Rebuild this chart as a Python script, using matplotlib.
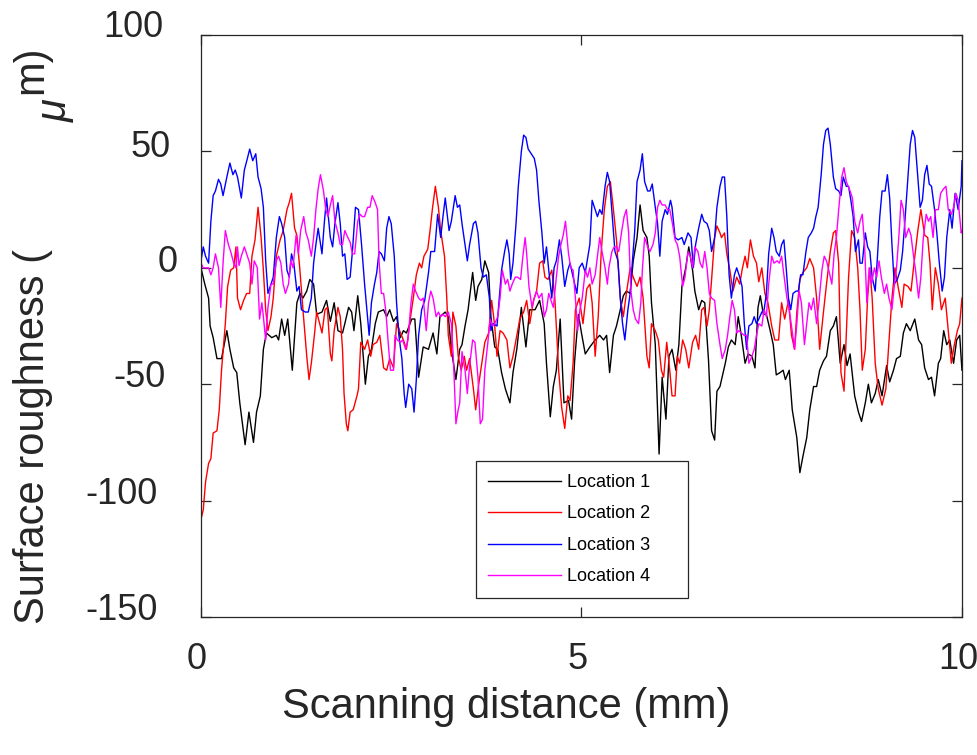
import matplotlib
matplotlib.use("Agg")
import matplotlib.pyplot as plt
from matplotlib.transforms import ScaledTranslation

plt.rcParams['font.family'] = ['Liberation Sans', 'DejaVu Sans']

# ---- data (x in mm, y in um) ----
loc1_x = [0.00, 0.05, 0.10, 0.12, 0.16, 0.21, 0.27, 0.34, 0.38, 0.43, 0.47, 0.51, 0.58, 0.63, 0.69, 0.73, 0.78, 0.82, 0.86, 0.93,
          0.99, 1.02, 1.06, 1.10, 1.14, 1.20, 1.26, 1.30, 1.34, 1.39, 1.43, 1.48, 1.52, 1.59, 1.65, 1.70,
          1.75, 1.80, 1.86, 1.89, 1.94, 1.98, 2.01, 2.06, 2.10, 2.16, 2.20, 2.24, 2.29, 2.33, 2.40, 2.44, 2.48, 2.53,
          2.57, 2.62, 2.66, 2.70, 2.77, 2.81, 2.86, 2.92, 2.99, 3.05, 3.10, 3.14, 3.21, 3.25, 3.29, 3.35, 3.40,
          3.43, 3.47, 3.51, 3.57, 3.61, 3.64, 3.69, 3.73, 3.78, 3.81, 3.86, 3.90, 3.95, 4.00, 4.06, 4.10, 4.15,
          4.21, 4.27, 4.32, 4.39, 4.45, 4.51, 4.54, 4.59, 4.63, 4.67, 4.72, 4.77, 4.83, 4.87, 4.91, 4.96, 5.00, 5.05, 5.11,
          5.18, 5.24, 5.29, 5.33, 5.37, 5.42, 5.46, 5.51, 5.55, 5.59, 5.64, 5.68, 5.73, 5.77, 5.81, 5.86, 5.89,
          5.92, 5.97, 6.02, 6.06, 6.11, 6.15, 6.19, 6.24, 6.28, 6.32, 6.37, 6.41, 6.46, 6.49, 6.54, 6.58, 6.62,
          6.67, 6.71, 6.75, 6.78, 6.82,
          6.89, 6.93, 6.97, 7.02, 7.06, 7.10, 7.15, 7.19, 7.24, 7.28, 7.32, 7.35, 7.39, 7.43, 7.48, 7.52, 7.56,
          7.61, 7.65, 7.68, 7.73, 7.77, 7.83, 7.87, 7.91, 7.96, 8.00, 8.05, 8.09, 8.13, 8.18, 8.22, 8.27, 8.31,
          8.35, 8.40, 8.45, 8.49, 8.53,
          8.59, 8.64, 8.68, 8.73, 8.77, 8.81, 8.86, 8.90, 8.95, 9.01, 9.05, 9.10, 9.14, 9.19, 9.23, 9.27, 9.32,
          9.38, 9.43, 9.47, 9.51, 9.56, 9.60, 9.64, 9.69, 9.72, 9.76, 9.80, 9.84, 9.89, 9.93, 9.97, 10.00]
loc1_y = [0, -7, -13, -25, -30, -39, -39, -27, -35, -43, -45, -58, -76, -62, -75, -62, -55, -35, -28, -30,
          -29, -31, -22, -29, -22, -44, -15, -11, -13, -10, -5, -7, -20, -19, -14, -23,
          -15, -27, -28, -24, -17, -19, -27, -12, -24, -50, -38, -35, -24, -19, -18, -21, -18, -23,
          -21, -30, -27, -28, -22, -22, -47, -34, -35, -28, -37, -21, -19, -21, -35, -48, -35,
          -33, -25, -18, -2, -14, -8, -5, 3, -2, -21, -34, -35, -45, -52, -58, -45, -35,
          -17, -34, -18, -18, -14, -24, -41, -64, -51, -44, -22, -58, -57, -65, -40, -20, -28, -37, -34,
          -31, -29, -31, -29, -45, -29, -25, -18, -12, -10, -11, 3, 13, 27, 16, 13, 5,
          -15, -33, -80, -47, -65, -38, -35, -44, -33, -8, 0, 9, -1, -10, -18, -14, -15,
          -40, -70, -74, -53, -51,
          -41, -34, -31, -33, -21, -29, -41, -37, -38, -43, -17, -12, -20, -20, -27, -33, -46,
          -45, -44, -48, -44, -61, -73, -88, -81, -73, -61, -51, -51, -44, -40, -38, -27, -25,
          -21, -41, -33, -42, -37,
          -55, -62, -66, -58, -50, -58, -54, -48, -55, -42, -49, -44, -39, -38, -28, -24, -27,
          -22, -31, -33, -43, -48, -47, -55, -41, -39, -27, -33, -31, -41, -31, -29, -44]

loc2_x = [0.00, 0.03, 0.06, 0.10, 0.13, 0.16, 0.21, 0.24, 0.27, 0.32, 0.35, 0.39, 0.43, 0.46, 0.48, 0.52, 0.56, 0.60,
          0.64, 0.67, 0.71, 0.75, 0.79, 0.82, 0.85, 0.88, 0.92, 0.95, 0.99, 1.04, 1.08, 1.13, 1.16, 1.19, 1.23,
          1.26, 1.30, 1.34, 1.39, 1.42, 1.45, 1.49, 1.52, 1.56, 1.59, 1.63, 1.66, 1.70,
          1.72, 1.75, 1.80, 1.83, 1.86, 1.88, 1.91, 1.93, 1.96, 2.00, 2.05, 2.07, 2.10, 2.15, 2.19, 2.23, 2.26,
          2.31, 2.35, 2.40, 2.44, 2.48, 2.53, 2.57, 2.61, 2.66, 2.70, 2.75, 2.79, 2.83, 2.87, 2.90, 2.93, 2.98,
          3.01, 3.04, 3.08, 3.12, 3.15, 3.20, 3.23, 3.25, 3.29, 3.31, 3.35, 3.38, 3.40,
          3.42, 3.46, 3.49, 3.53, 3.58, 3.61, 3.65, 3.69, 3.73, 3.78, 3.82, 3.86, 3.89, 3.93, 3.97, 4.02, 4.06,
          4.10, 4.15, 4.19, 4.24, 4.28, 4.32, 4.37, 4.41, 4.45, 4.49, 4.52, 4.56, 4.61, 4.65, 4.70, 4.74, 4.78,
          4.82, 4.85, 4.89, 4.92, 4.97, 5.02, 5.07, 5.11,
          5.14, 5.18, 5.22, 5.26, 5.30, 5.34, 5.38, 5.42, 5.46, 5.51, 5.55, 5.59, 5.64, 5.68, 5.73, 5.77, 5.81,
          5.86, 5.89, 5.92, 5.97, 6.01, 6.05, 6.08, 6.12, 6.16, 6.19, 6.23, 6.26, 6.29, 6.33, 6.37, 6.41, 6.46,
          6.50, 6.54, 6.58, 6.61, 6.65, 6.68, 6.71, 6.75, 6.78, 6.82,
          6.84, 6.88, 6.91, 6.95, 6.99, 7.04, 7.08, 7.11, 7.15, 7.18, 7.22, 7.26, 7.30, 7.33, 7.37, 7.41, 7.45,
          7.50, 7.54, 7.59, 7.63, 7.67, 7.72, 7.76, 7.80, 7.83, 7.87, 7.91, 7.96, 8.00, 8.05, 8.09, 8.13, 8.18,
          8.22, 8.27, 8.31, 8.34, 8.38, 8.41, 8.45,
          8.51, 8.55, 8.59, 8.63, 8.66, 8.69, 8.73, 8.76, 8.79, 8.82, 8.86, 8.90, 8.95, 9.00, 9.04, 9.08, 9.12,
          9.16, 9.21, 9.24, 9.29, 9.33, 9.37, 9.42, 9.46, 9.51, 9.55, 9.58, 9.61, 9.65, 9.69, 9.73, 9.78, 9.82,
          9.86, 9.90, 9.94, 9.97, 10.00]
loc2_y = [-108, -104, -92, -84, -82, -71, -70, -61, -44, -24, -8, -1, 0, 9, -13, -18, -14, -11,
          -11, 5, 12, 26, 13, -1, -18, -27, -21, -13, 5, 12, 16, 25, 28, 32, 17,
          14, -1, -18, -38, -48, -41, -29, -19, -24, -28, -18, -17, -37,
          -40, -27, -17, -21, -35, -54, -67, -70, -62, -61, -55, -52, -32, -35, -31, -38, -33,
          -32, -29, -43, -44, -39, -43, -24, -27, -31, -35, -22, -13, -3, 2, 0, 5, 8,
          16, 25, 35, 26, 16, 5, -13, -29, -38, -19, -25, -38, -41,
          -44, -38, -44, -39, -52, -61, -50, -41, -32, -28, -14, -25, -38, -27, -28, -31, -43,
          -38, -29, -22, -19, -14, -24, -14, -10, 2, 3, -4, -5, -1, -13, -44, -60, -69,
          -55, -57, -41, -18, -13, -24, -9, -7,
          -15, -38, -21, 7, 25, 35, 37, 25, 12, -13, -21, -11, 0, -4, -8, -4, -13,
          -38, -43, -24, -27, -31, -44, -47, -32, -44, -55, -55, -38, -41, -31, -35, -43, -32,
          -29, -35, -18, -17, -25, -18, -5, 13, 18, 15,
          13, 15, 6, -1, -10, -4, -7, -1, 5, 0, 12, 5, 2, -6, 0, -11, -15,
          -25, -31, -31, -15, -22, -14, -29, -35, -19, -5, -2, 0, 4, 0, -13, -35, -19,
          -7, 7, 15, 16, 2, -45, -53,
          -4, 16, 13, 0, -18, -44, -35, -13, 0, -13, -41, -52, -59, -52, -32, -13, 0,
          -8, -17, -7, -8, -10, 2, 16, 25, 14, 13, 2, -18, 0, -7, -18, -13, -27,
          -41, -33, -27, -24, -13]

loc3_x = [0.00, 0.03, 0.06, 0.10, 0.13, 0.16, 0.19, 0.23, 0.26, 0.29, 0.34, 0.38, 0.42, 0.45, 0.48, 0.53, 0.57, 0.61,
          0.64, 0.68, 0.72, 0.75, 0.79, 0.82, 0.85, 0.88, 0.92, 0.95, 0.99, 1.03, 1.06, 1.10, 1.13, 1.16, 1.19,
          1.22, 1.26, 1.29, 1.32, 1.37, 1.41, 1.45, 1.48, 1.51, 1.54, 1.59, 1.62, 1.65, 1.70,
          1.73, 1.76, 1.80, 1.83, 1.86, 1.89, 1.92, 1.96, 1.99, 2.03, 2.07, 2.11, 2.15, 2.18, 2.21, 2.24, 2.28,
          2.31, 2.34, 2.37, 2.41, 2.44, 2.47, 2.50, 2.54, 2.57, 2.60, 2.64, 2.67, 2.69, 2.73, 2.77, 2.80, 2.83,
          2.86, 2.90, 2.94, 2.99, 3.02, 3.07, 3.11, 3.15, 3.18, 3.21, 3.26, 3.29, 3.34, 3.37, 3.40,
          3.43, 3.47, 3.50, 3.53, 3.58, 3.61, 3.64, 3.68, 3.71, 3.75, 3.79, 3.81, 3.84, 3.89, 3.92, 3.95, 3.99,
          4.02, 4.05, 4.07, 4.10, 4.14, 4.17, 4.21, 4.24, 4.27, 4.30, 4.34, 4.38, 4.41, 4.44, 4.48, 4.51, 4.54,
          4.57, 4.61, 4.64, 4.67, 4.71, 4.74, 4.78, 4.82, 4.85, 4.89, 4.94, 4.97, 5.01, 5.05, 5.11,
          5.14, 5.18, 5.21, 5.24, 5.27, 5.31, 5.34, 5.37, 5.41, 5.44, 5.48, 5.51, 5.54, 5.57, 5.61, 5.64, 5.67,
          5.70, 5.73, 5.77, 5.80, 5.83, 5.87, 5.90, 5.93, 5.97, 6.00, 6.03, 6.06, 6.10, 6.13, 6.17, 6.19, 6.23,
          6.27, 6.32, 6.35, 6.40, 6.44, 6.47, 6.50, 6.54, 6.58, 6.61, 6.65, 6.68, 6.71, 6.75, 6.78, 6.82,
          6.85, 6.88, 6.91, 6.94, 6.97, 7.01, 7.04, 7.08, 7.11, 7.14, 7.17, 7.20, 7.24, 7.27, 7.30, 7.33, 7.37,
          7.40, 7.43, 7.46, 7.50, 7.53, 7.56, 7.60, 7.63, 7.66, 7.69, 7.72, 7.75, 7.78, 7.82, 7.85, 7.88, 7.91,
          7.95, 7.98, 8.02, 8.05, 8.08, 8.11, 8.15, 8.18, 8.21, 8.24, 8.27, 8.31, 8.34, 8.38, 8.41, 8.44, 8.48,
          8.51, 8.54, 8.57, 8.60, 8.64, 8.66, 8.69, 8.73, 8.76, 8.79, 8.82, 8.86, 8.89, 8.92, 8.95, 8.99, 9.02,
          9.05, 9.08, 9.11, 9.15, 9.19, 9.22, 9.25, 9.29, 9.32, 9.35, 9.38, 9.42, 9.45, 9.48, 9.51, 9.54, 9.57,
          9.60, 9.64, 9.67, 9.70, 9.74, 9.77, 9.80, 9.84, 9.87, 9.91, 9.95, 9.99, 10.00]
loc3_y = [3, 9, 5, 2, 20, 31, 33, 38, 36, 31, 39, 45, 40, 42, 39, 30, 42, 47,
          51, 46, 49, 39, 34, 26, 3, -11, -7, -4, 13, 22, 19, 13, -1, -4, 6,
          2, -10, -8, -18, -19, -19, -13, 2, 10, 17, 6, 19, 30, 13,
          9, 19, 28, 19, 5, 6, -5, -4, 7, 26, 25, 10, -7, -18, -29, -15, -7,
          -2, 7, 6, 3, 17, 22, 19, 5, -15, -29, -39, -54, -60, -50, -52, -62, -48,
          -29, -18, -14, -2, 7, 7, 23, 13, 22, 30, 16, 20, 31, 26, 27,
          19, 10, 3, 10, 19, 20, 15, 0, -4, -3, -13, -27, -24, -25, -13, -1, 7,
          12, 6, -5, 2, 19, 35, 50, 57, 56, 51, 49, 47, 42, 29, 15, 2, 9,
          -1, -13, 0, 3, 12, 5, -8, -1, 2, -4, -11, 0, 2, -2, 10,
          29, 25, 22, 25, 23, 35, 41, 37, 20, 7, 3, -13, -24, -31, -18, -11, 3,
          16, 37, 42, 49, 37, 33, 33, 36, 26, 19, 5, 20, 25, 23, 29, 26, 13,
          12, 13, 10, 15, 13, 0, 10, 17, 23, 20, 19, 16, 7, 13, 26, 35,
          39, 39, 22, -3, -13, -3, 0, -4, -8, -24, -35, -25, -24, -21, -24, -22, -19,
          -18, -11, 6, 17, 13, 7, 5, 10, 12, 0, -13, -18, -11, -10, -10, -3, -3,
          7, 13, 15, 17, 22, 26, 40, 53, 59, 60, 53, 39, 34, 33, 31, 39, 35,
          35, 29, 22, 7, 12, 2, 2, 15, 9, 7, -4, -10, 5, 22, 33, 33, 40,
          30, 10, -7, -5, -1, 7, 20, 39, 53, 59, 56, 39, 26, 29, 40, 44, 36,
          35, 25, 15, 3, -10, -4, 13, 25, 17, 32, 25, 35, 46]

loc4_x = [0.00, 0.03, 0.06, 0.10, 0.13, 0.16, 0.19, 0.23, 0.26, 0.29, 0.32, 0.36, 0.39, 0.43, 0.46, 0.48, 0.50, 0.53,
          0.57, 0.60, 0.64, 0.67, 0.70, 0.74, 0.77, 0.80, 0.82, 0.85, 0.88, 0.92, 0.95, 0.99, 1.02, 1.05, 1.08,
          1.11, 1.15, 1.18, 1.21, 1.25, 1.28, 1.31, 1.35, 1.38, 1.41, 1.45, 1.48, 1.51, 1.54, 1.57, 1.61, 1.64,
          1.67, 1.70,
          1.73, 1.76, 1.80, 1.83, 1.86, 1.89, 1.93, 1.96, 1.99, 2.02, 2.06, 2.09, 2.12, 2.15, 2.19, 2.22, 2.25,
          2.29, 2.32, 2.34, 2.37, 2.40, 2.43, 2.46, 2.49, 2.53, 2.55, 2.58, 2.62, 2.65, 2.69, 2.72, 2.76, 2.79,
          2.82, 2.86, 2.89, 2.92, 2.96, 2.99, 3.02, 3.05, 3.09, 3.12, 3.15, 3.18, 3.21, 3.25, 3.29, 3.32, 3.35,
          3.38, 3.40,
          3.43, 3.47, 3.50, 3.53, 3.57, 3.60, 3.64, 3.67, 3.70, 3.73, 3.77, 3.80, 3.83, 3.86, 3.90, 3.93, 3.96,
          4.00, 4.03, 4.06, 4.09, 4.13, 4.16, 4.20, 4.23, 4.26, 4.28, 4.31, 4.35, 4.38, 4.41, 4.44, 4.48, 4.51,
          4.54, 4.57, 4.61, 4.63, 4.67, 4.70, 4.73, 4.76, 4.79, 4.83, 4.86, 4.89, 4.92, 4.95, 4.98, 5.01, 5.05,
          5.08, 5.11,
          5.14, 5.18, 5.21, 5.24, 5.27, 5.31, 5.34, 5.36, 5.40, 5.43, 5.46, 5.49, 5.53, 5.56, 5.59, 5.62, 5.65,
          5.68, 5.71, 5.75, 5.78, 5.80, 5.83, 5.87, 5.90, 5.94, 5.97, 6.00, 6.03, 6.06, 6.10, 6.13, 6.16, 6.19,
          6.23, 6.26, 6.29, 6.33, 6.36, 6.40, 6.43, 6.46, 6.49, 6.53, 6.56, 6.59, 6.62, 6.65, 6.68, 6.71, 6.75,
          6.78, 6.82,
          6.85, 6.89, 6.92, 6.95, 6.98, 7.01, 7.04, 7.07, 7.10, 7.14, 7.17, 7.20, 7.24, 7.27, 7.30, 7.33, 7.37,
          7.40, 7.43, 7.46, 7.50, 7.53, 7.57, 7.60, 7.63, 7.66, 7.70, 7.73, 7.76, 7.80, 7.83, 7.86, 7.89, 7.93,
          7.96, 7.99, 8.02, 8.05, 8.09, 8.12, 8.16, 8.19, 8.22, 8.25, 8.29, 8.32, 8.35, 8.38, 8.42, 8.45, 8.48,
          8.53,
          8.56, 8.59, 8.63, 8.66, 8.69, 8.72, 8.75, 8.78, 8.81, 8.85, 8.88, 8.91, 8.94, 8.98, 9.01, 9.04, 9.08,
          9.11, 9.14, 9.17, 9.20, 9.23, 9.26, 9.30, 9.33, 9.36, 9.39, 9.43, 9.46, 9.49, 9.53, 9.56, 9.59, 9.62,
          9.65, 9.69, 9.72, 9.76, 9.79, 9.82, 9.86, 9.89, 9.92, 9.95, 9.99, 10.00]
loc4_y = [2, 0, 0, 0, -3, 0, 6, 0, -17, 2, 16, 10, 7, 2, 0, 9, 1, 5,
          9, 6, 2, -7, 3, 0, -22, -15, -21, -31, -17, -7, -7, 3, 5, 2, -7,
          -11, -7, 3, 0, 14, 6, 16, 22, 15, 12, 5, 13, 25, 34, 40, 33, 25,
          22, 27,
          31, 20, 15, 10, 10, 16, 13, 11, 6, 6, 20, 23, 22, 22, 26, 26, 31,
          28, 25, 3, -11, -11, -19, -32, -44, -44, -29, -31, -32, -31, -35, -31, -15, -7,
          -10, -13, -14, -13, -27, -15, -10, -13, -21, -19, -21, -20, -21, -19, -24, -41, -67,
          -61, -58,
          -36, -44, -54, -42, -31, -32, -47, -67, -65, -44, -32, -22, -25, -24, -21, -13, -1,
          -7, -5, -10, -7, -4, -4, -5, 5, 13, 6, -8, -17, -13, -10, -13, -11, -21,
          -18, -11, -15, -17, -4, 5, 10, 14, 20, 6, 0, -1, -13, -27, -18, -13, -1,
          -4, 0,
          -7, -3, 5, 13, 7, 0, -7, 0, 7, 9, 9, 7, 16, 22, 25, 15, -10,
          -18, -22, -24, -15, -1, 13, 9, 7, 10, 15, 26, 29, 27, 27, 25, 25, 20,
          12, 10, 5, -8, -4, 7, 5, 0, 9, 7, 2, 0, 7, 0, -11, -13, -14,
          -24, -33,
          -39, -35, -29, -21, -14, -18, -28, -27, -28, -29, -29, -41, -38, -35, -29, -24, -25,
          -18, -21, -7, 5, 2, 3, 2, 5, -3, -13, -18, -25, -35, -24, -10, -15, -33,
          -24, -15, -18, -13, -24, -15, -1, 5, 3, -1, -7, 6, 13, 25, 39, 43, 37,
          33,
          30, 20, 15, 20, 23, 10, -15, 0, -7, 0, -4, 3, -4, -11, -7, -13, -18,
          -8, 0, 13, 29, 25, 13, 17, 14, 6, -1, -13, -4, 12, 23, 20, 22, 13,
          25, 25, 32, 34, 35, 25, 23, 26, 32, 29, 15, 16]

series_labels = ['Location 1', 'Location 2', 'Location 3', 'Location 4']
series_colors = ['#000000', '#ff0000', '#0000ff', '#ff00ff']

xticks = [0, 5, 10]
yticks = [-150, -100, -50, 0, 50, 100]

txt = '#262626'

fig = plt.figure(figsize=(9.78, 7.55), dpi=100)
ax = fig.add_axes([0.2055, 0.1828, 0.7781, 0.7708])

for xs, ys, lab, col in zip([loc1_x, loc2_x, loc3_x, loc4_x],
                            [loc1_y, loc2_y, loc3_y, loc4_y],
                            series_labels, series_colors):
    ax.plot(xs, ys, color=col, lw=1.0, label=lab)

ax.set_xlim(0, 10)
ax.set_ylim(-150, 100)
ax.set_xticks(xticks)
ax.set_yticks(yticks)
ax.set_xticklabels([str(t) for t in xticks])
ax.set_yticklabels([str(t) for t in yticks])

for sp in ax.spines.values():
    sp.set_color(txt)
    sp.set_linewidth(0.9)
ax.tick_params(direction='in', length=7, width=0.9, colors=txt,
               top=True, right=True, labelsize=26)
ax.tick_params(axis='y', pad=22)
ax.tick_params(axis='x', pad=18)

# the exported figure has slightly shifted tick labels
ydx = [-13, -13, -5, 7, 0, -7]
ydy = [10, 10, 11, 9.5, 8, 12]
for lbl, dx, dy in zip(ax.get_yticklabels(), ydx, ydy):
    lbl.set_transform(lbl.get_transform() + ScaledTranslation(dx / 100, dy / 100, fig.dpi_scale_trans))
for lbl in ax.get_xticklabels():
    lbl.set_transform(lbl.get_transform() + ScaledTranslation(-4 / 100, 0, fig.dpi_scale_trans))

# axis labels
fig.text(506 / 978, 1 - 707 / 755, 'Scanning distance (mm)', fontsize=30, color=txt,
         ha='center', va='center')
fig.text(33 / 978, 1 - 436 / 755, 'Surface roughness (', fontsize=30, color=txt,
         rotation=90, ha='center', va='center')
fig.text(31.5 / 978, 1 - 69.5 / 755, 'm)', fontsize=30, color=txt,
         rotation=90, ha='center', va='center')
fig.text(56 / 978, 1 - 111 / 755, 'μ', fontsize=30, color=txt, style='italic',
         rotation=90, ha='center', va='center')

leg = ax.legend(loc='lower left', bbox_to_anchor=(0.361, 0.0326, 0.279, 0.235), mode='expand',
                borderaxespad=0, fontsize=13, handlelength=4.0, handletextpad=0.35,
                labelspacing=0.8, borderpad=0.7, fancybox=False, framealpha=1, edgecolor=txt)
leg.get_frame().set_linewidth(0.9)

fig.savefig('out.png', dpi=100)
